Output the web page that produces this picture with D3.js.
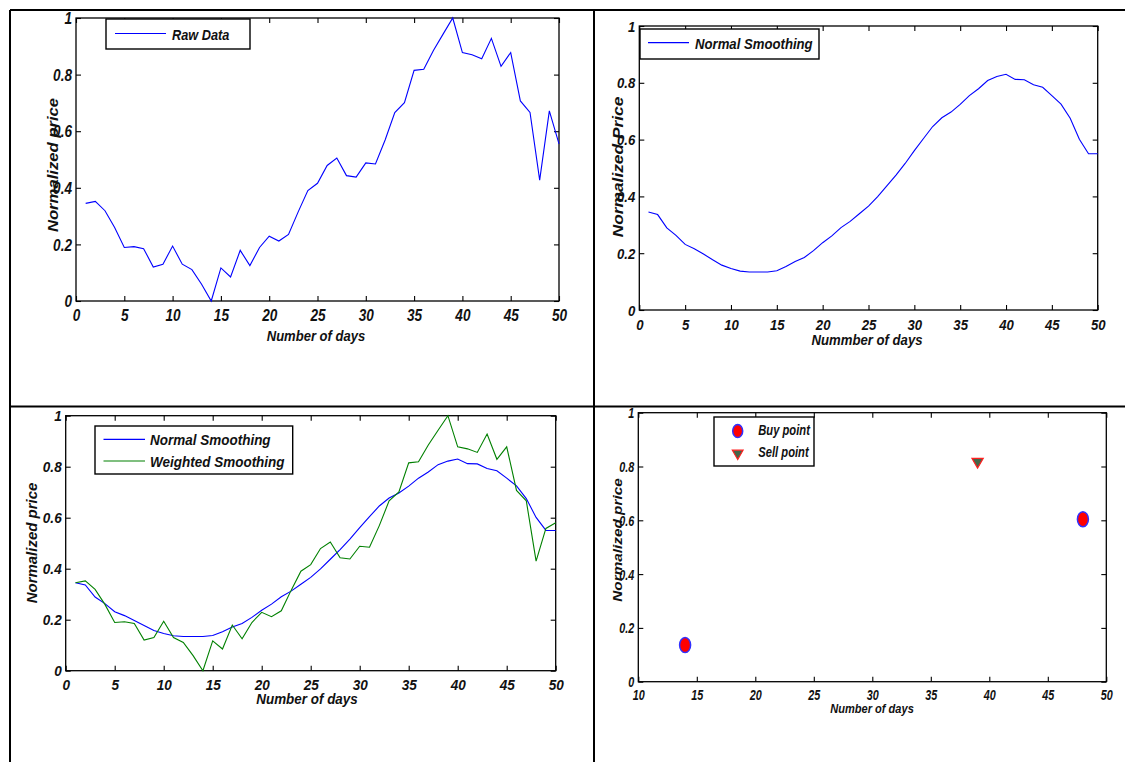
<!DOCTYPE html>
<html>
<head>
<meta charset="utf-8">
<script src="https://cdn.jsdelivr.net/npm/d3@7"></script>
<style>
  html, body { margin: 0; padding: 0; background: #fff; overflow: hidden; }
  svg { display: block; }
  text { font-family: "Liberation Sans", Arial, Helvetica, sans-serif; font-weight: bold; font-style: italic; fill: #111; }
</style>
</head>
<body>
<svg id="chart" width="1125" height="762"></svg>
<script>
"use strict";

// ---------- data ----------
const days = [1,2,3,4,5,6,7,8,9,10,11,12,13,14,15,16,17,18,19,20,21,22,23,24,25,
              26,27,28,29,30,31,32,33,34,35,36,37,38,39,40,41,42,43,44,45,46,47,48,49,50];

const rawData = [0.345,0.352,0.319,0.26,0.189,0.192,0.185,0.12,0.13,0.194,
                 0.13,0.111,0.059,0,0.117,0.085,0.179,0.125,0.189,0.229,
                 0.212,0.235,0.315,0.39,0.416,0.479,0.505,0.443,0.438,0.488,
                 0.484,0.569,0.666,0.701,0.815,0.819,0.885,0.943,1.0,0.878,
                 0.87,0.856,0.928,0.829,0.878,0.707,0.666,0.427,0.672,0.555];

const normalSmoothing = [0.345,0.336,0.289,0.263,0.231,0.216,0.197,0.177,0.158,0.146,
                         0.137,0.134,0.134,0.134,0.138,0.153,0.171,0.185,0.209,0.237,
                         0.261,0.29,0.312,0.339,0.366,0.399,0.437,0.475,0.516,0.561,
                         0.604,0.646,0.677,0.697,0.724,0.755,0.779,0.808,0.822,0.83,
                         0.812,0.811,0.793,0.784,0.755,0.725,0.675,0.601,0.55,0.55];

const weightedSmoothing = [0.345,0.352,0.319,0.26,0.189,0.192,0.185,0.12,0.13,0.194,
                           0.13,0.111,0.059,0,0.117,0.085,0.179,0.125,0.189,0.229,
                           0.212,0.235,0.315,0.39,0.416,0.479,0.505,0.443,0.438,0.488,
                           0.484,0.569,0.666,0.701,0.815,0.819,0.885,0.943,1.0,0.878,
                           0.87,0.856,0.928,0.829,0.878,0.707,0.666,0.43,0.558,0.58];

const buyDays = [14, 48];
const buyPrices = [0.136, 0.604];
const sellDays = [39];
const sellPrices = [0.818];

const xTicksFull = [0,5,10,15,20,25,30,35,40,45,50];
const xTicksTrade = [10,15,20,25,30,35,40,45,50];
const yTicks = [0,0.2,0.4,0.6,0.8,1];

// ---------- layout ----------
const TICK = 5;
const svg = d3.select("#chart");

// table grid lines
const grid = svg.append("g").attr("stroke", "#000").attr("stroke-width", 2);
grid.append("line").attr("x1", 10).attr("x2", 1125).attr("y1", 10).attr("y2", 10);
grid.append("line").attr("x1", 10).attr("x2", 1125).attr("y1", 406.5).attr("y2", 406.5);
grid.append("line").attr("x1", 10).attr("x2", 10).attr("y1", 10).attr("y2", 762);
grid.append("line").attr("x1", 594).attr("x2", 594).attr("y1", 10).attr("y2", 762);

const panels = [
  {
    left: 76, right: 559, top: 18, bottom: 301, xDomain: [0, 50], xTicks: xTicksFull,
    tickSize: 16, tickSx: 0.85, xTickDy: 20.3,
    xTitle: "Number of days", xTitleX: 316, xTitleY: 341, xTitleSize: 15, xTitleSx: 0.87,
    yTitle: "Normalized price", yTitleX: 58, yTitleY: 165, yTitleSize: 14, yTitleSx: 1.19,
    lines: [{ values: rawData, color: "#0000ff", label: "Raw Data" }],
    legend: { x: 106, y: 19, w: 144, h: 30, lx1: 115, lx2: 166, tx: 172, rows: [33.5], base: [40], size: 15, sx: 0.85 }
  },
  {
    left: 639.3, right: 1097.7, top: 26, bottom: 310, xDomain: [0, 50], xTicks: xTicksFull,
    tickSize: 14, tickSx: 0.94, xTickDy: 20,
    xTitle: "Nummber of days", xTitleX: 867, xTitleY: 345, xTitleSize: 14, xTitleSx: 0.94,
    yTitle: "Normalized Price", yTitleX: 623, yTitleY: 167, yTitleSize: 14, yTitleSx: 1.24,
    lines: [{ values: normalSmoothing, color: "#0000ff", label: "Normal Smoothing" }],
    legend: { x: 640, y: 29, w: 179, h: 30, lx1: 648, lx2: 689, tx: 695, rows: [42.7], base: [49.3], size: 14, sx: 0.94 }
  },
  {
    left: 65.7, right: 555.7, top: 415.7, bottom: 670.7, xDomain: [0, 50], xTicks: xTicksFull,
    tickSize: 14, tickSx: 0.97, xTickDy: 19.3,
    xTitle: "Number of days", xTitleX: 307, xTitleY: 704, xTitleSize: 14, xTitleSx: 0.96,
    yTitle: "Normalized price", yTitleX: 37, yTitleY: 543, yTitleSize: 14, yTitleSx: 1.07,
    lines: [
      { values: normalSmoothing, color: "#0000ff", label: "Normal Smoothing" },
      { values: weightedSmoothing, color: "#008000", label: "Weighted Smoothing" }
    ],
    legend: { x: 95, y: 426, w: 197.7, h: 48, lx1: 103.5, lx2: 145, tx: 150, rows: [439.3, 461], base: [445, 466.7], size: 14.5, sx: 0.93 }
  },
  {
    left: 638.3, right: 1106.3, top: 412.7, bottom: 681.7, xDomain: [10, 50], xTicks: xTicksTrade,
    tickSize: 14, tickSx: 0.77, xTickDy: 18,
    xTitle: "Number of days", xTitleX: 872, xTitleY: 713, xTitleSize: 13.5, xTitleSx: 0.82,
    yTitle: "Normalized price", yTitleX: 622, yTitleY: 540, yTitleSize: 13, yTitleSx: 1.18,
    lines: [],
    trades: true,
    legend: { x: 714, y: 417, w: 100, h: 49, mx: 737.7, tx: 758.3, rows: [431, 453.3], base: [435, 457], size: 14, sx: 0.8 }
  }
];

function drawPanel(p) {
  const g = svg.append("g");
  const x = d3.scaleLinear().domain(p.xDomain).range([p.left, p.right]);
  const y = d3.scaleLinear().domain([0, 1]).range([p.bottom, p.top]);

  // bottom axis with labels, ticks pointing inward
  const bx = g.append("g").attr("transform", `translate(0,${p.bottom})`)
    .call(d3.axisBottom(x).tickValues(p.xTicks).tickSizeInner(-TICK).tickSizeOuter(0).tickFormat(d => String(d)));
  bx.select(".domain").remove();
  bx.selectAll(".tick text")
    .attr("y", null).attr("dy", null)
    .attr("transform", `translate(0,${p.xTickDy}) scale(${p.tickSx},1)`)
    .style("font-size", p.tickSize + "px");

  const ly = g.append("g").attr("transform", `translate(${p.left},0)`)
    .call(d3.axisLeft(y).tickValues(yTicks).tickSizeInner(-TICK).tickSizeOuter(0).tickFormat(d => String(d)));
  ly.select(".domain").remove();
  ly.selectAll(".tick text")
    .attr("x", null).attr("dy", "0.36em")
    .attr("transform", `translate(-4,0) scale(${p.tickSx},1)`)
    .style("font-size", p.tickSize + "px");

  // mirrored ticks on top and right (box on)
  const tx = g.append("g").attr("transform", `translate(0,${p.top})`)
    .call(d3.axisTop(x).tickValues(p.xTicks).tickSizeInner(-TICK).tickSizeOuter(0).tickFormat(""));
  tx.select(".domain").remove();
  const ry = g.append("g").attr("transform", `translate(${p.right},0)`)
    .call(d3.axisRight(y).tickValues(yTicks).tickSizeInner(-TICK).tickSizeOuter(0).tickFormat(""));
  ry.select(".domain").remove();

  g.selectAll(".tick line").attr("stroke", "#000").attr("stroke-width", 1.1);

  // plot box
  g.append("rect")
    .attr("x", p.left).attr("y", p.top)
    .attr("width", p.right - p.left).attr("height", p.bottom - p.top)
    .attr("fill", "none").attr("stroke", "#000").attr("stroke-width", 1.3);

  // series lines
  p.lines.forEach(s => {
    const line = d3.line().x((d, i) => x(days[i])).y(d => y(d));
    g.append("path").datum(s.values)
      .attr("d", line)
      .attr("fill", "none")
      .attr("stroke", s.color)
      .attr("stroke-width", 1.1);
  });

  // trade points
  if (p.trades) {
    g.selectAll("ellipse.buy").data(buyDays).join("ellipse")
      .attr("class", "buy")
      .attr("cx", d => x(d)).attr("cy", (d, i) => y(buyPrices[i]))
      .attr("rx", 5.5).attr("ry", 7.5)
      .attr("fill", "#ff0000").attr("stroke", "#3030ff").attr("stroke-width", 1.5);
    const tri = d3.symbol().type(d3.symbolTriangle).size(55);
    g.selectAll("path.sell").data(sellDays).join("path")
      .attr("class", "sell")
      .attr("d", tri)
      .attr("transform", (d, i) => `translate(${x(d)},${y(sellPrices[i])}) rotate(180)`)
      .attr("fill", "#44664a").attr("stroke", "#ff2020").attr("stroke-width", 1.2);
  }

  // axis titles
  g.append("text")
    .attr("text-anchor", "middle")
    .attr("transform", `translate(${p.xTitleX},${p.xTitleY}) scale(${p.xTitleSx},1)`)
    .style("font-size", p.xTitleSize + "px")
    .text(p.xTitle);
  g.append("text")
    .attr("text-anchor", "middle")
    .attr("transform", `translate(${p.yTitleX},${p.yTitleY}) rotate(-90) scale(${p.yTitleSx},1)`)
    .style("font-size", p.yTitleSize + "px")
    .text(p.yTitle);

  // legend
  const L = p.legend;
  const lg = g.append("g");
  lg.append("rect")
    .attr("x", L.x).attr("y", L.y).attr("width", L.w).attr("height", L.h)
    .attr("fill", "#fff").attr("stroke", "#000").attr("stroke-width", 1.4);
  if (p.trades) {
    lg.append("ellipse").attr("cx", L.mx).attr("cy", L.rows[0]).attr("rx", 5).attr("ry", 6.5)
      .attr("fill", "#ff0000").attr("stroke", "#3030ff").attr("stroke-width", 1.5);
    lg.append("path").attr("d", d3.symbol().type(d3.symbolTriangle).size(50))
      .attr("transform", `translate(${L.mx},${L.rows[1]}) rotate(180)`)
      .attr("fill", "#44664a").attr("stroke", "#ff2020").attr("stroke-width", 1.2);
    ["Buy point", "Sell point"].forEach((t, i) => {
      lg.append("text")
        .attr("transform", `translate(${L.tx},${L.base[i]}) scale(${L.sx},1)`)
        .style("font-size", L.size + "px").text(t);
    });
  } else {
    p.lines.forEach((s, i) => {
      lg.append("line")
        .attr("x1", L.lx1).attr("x2", L.lx2).attr("y1", L.rows[i]).attr("y2", L.rows[i])
        .attr("stroke", s.color).attr("stroke-width", 1.2);
      lg.append("text")
        .attr("transform", `translate(${L.tx},${L.base[i]}) scale(${L.sx},1)`)
        .style("font-size", L.size + "px").text(s.label);
    });
  }
}

panels.forEach(drawPanel);
</script>
</body>
</html>
